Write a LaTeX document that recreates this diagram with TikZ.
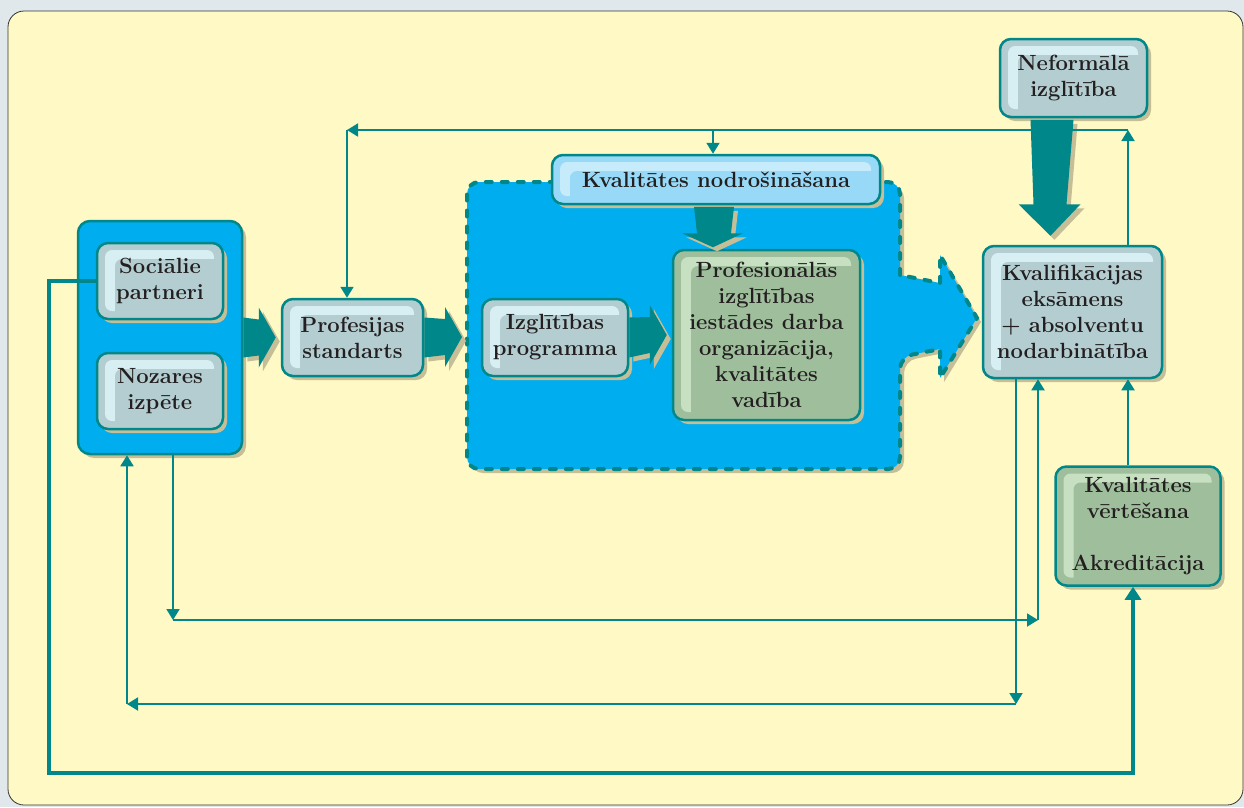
\documentclass[tikz,border=0pt]{standalone}
\usepackage{fontspec}
\usepackage{tikz}
\usetikzlibrary{arrows.meta}
\usetikzlibrary{calc}
\usetikzlibrary{shadows}

\definecolor{tealc}{HTML}{00878A}
\definecolor{cyanc}{HTML}{00AEEF}
\definecolor{greyc}{HTML}{B3CDD1}
\definecolor{greyhl}{HTML}{D7EEF2}
\definecolor{greenc}{HTML}{9FBF9C}
\definecolor{greenhl}{HTML}{C6E0C1}
\definecolor{skyc}{HTML}{97D9F6}
\definecolor{skyhl}{HTML}{C6EBFB}
\definecolor{shadowc}{HTML}{C6BE96}
\definecolor{paperc}{HTML}{FFF9C5}
\definecolor{framec}{HTML}{E1E8EC}
\definecolor{inkc}{HTML}{231F20}

\newcommand{\cardfont}{\fontsize{22}{26}\selectfont\bfseries}

\tikzset{dropped/.style = {drop shadow={fill=shadowc, opacity=1, shadow xshift=4pt, shadow yshift=-4pt}}}
\tikzset{card/.style 2 args = {draw=tealc, line width=2.5pt, rounded corners=11pt, fill=#1, dropped,
    text=inkc, font=\cardfont, align=center, inner sep=0pt,
    path picture={
      \fill[#2, rounded corners=7pt] ([shift={(8pt,-7pt)}]path picture bounding box.north west)
        rectangle ([shift={(-9pt,8pt)}]path picture bounding box.south east);
      \fill[#1, rounded corners=7pt] ([shift={(18pt,-16pt)}]path picture bounding box.north west)
        rectangle (path picture bounding box.south east);}}}
\tikzset{fatarrow/.style = {fill=tealc, dropped}}
\tikzset{wire/.style = {draw=tealc, line width=1.8pt, -{Triangle[length=11pt,width=13pt]}}}
\tikzset{heavywire/.style = {draw=tealc, line width=4.5pt, -{Triangle[length=13pt,width=16pt]}}}

\begin{document}
\begin{tikzpicture}[x=1pt, y=-1pt]
    \newcommand{\fatright}[2]{%
      \fill[fatarrow] ($#1+(0,-20)$) -- ($#2+(-22,-18)$) -- ($#2+(-22,-30)$) -- ($#2+(-5,0)$)
        -- ($#2+(-22,30)$) -- ($#2+(-22,18)$) -- ($#1+(0,20)$) -- cycle;}

    % Background
    \useasboundingbox (0,0) rectangle (1244,807);
    \fill[framec] (0,0) rectangle (1244,807);
    \draw[fill=paperc, draw=black!80, line width=0.8pt, rounded corners=16pt] (8,11) rectangle (1243,805);

    % Left group
    \node[draw=tealc, line width=2.5pt, rounded corners=12pt, fill=cyanc, dropped,
          minimum width=164pt, minimum height=233pt] (grp) at (160,337.5) {};
    \node[card={greyc}{greyhl}, minimum width=126pt, minimum height=76pt] (soc) at (160,281) {Sociālie\\partneri};
    \node[card={greyc}{greyhl}, minimum width=126pt, minimum height=76pt] (noz) at (160,391) {Nozares\\izpēte};

    % Dashed zone
    \coordinate (zone) at (467,337);
    \draw[draw=tealc, fill=cyanc, line width=4pt, dash pattern=on 6pt off 10pt, line cap=round, dropped]
      (900,275) [rounded corners=12pt] -- (900,182) -- (467,182) -- (467,469) -- (900,469)
      -- (900,357) [sharp corners] -- (940,349) -- (940,378) -- (977,318) -- (940,255) -- (940,283) -- cycle;

    % Boxes
    \node[card={greyc}{greyhl}, minimum width=141pt, minimum height=77pt] (prof) at (352.5,337.5) {Profesijas\\standarts};
    \node[card={greyc}{greyhl}, minimum width=146pt, minimum height=77pt] (izgl) at (555,337.5) {Izglītības\\programma};
    \node[card={greenc}{greenhl}, minimum width=187pt, minimum height=170pt] (org) at (766.5,335)
      {Profesionālās\\izglītības\\iestādes darba\\organizācija,\\kvalitātes\\vadība};
    \node[card={skyc}{skyhl}, minimum width=328pt, minimum height=49pt] (qa) at (716,179.5) {Kvalitātes nodrošināšana};
    \node[card={greyc}{greyhl}, minimum width=179pt, minimum height=132pt] (exam) at (1072.5,312)
      {Kvalifikācijas\\eksāmens\\+ absolventu\\nodarbinātība};
    \node[card={greyc}{greyhl}, minimum width=147pt, minimum height=78pt] (nonf) at (1073.5,78) {Neformālā\\izglītība};
    \node[card={greenc}{greenhl}, minimum width=165pt, minimum height=119pt] (accr) at (1138,526)
      {Kvalitātes\\vērtēšana\\[26pt]Akreditācija};

    % Block arrows
    \fatright{(grp.east)}{(prof.west)}
    \fatright{(prof.east)}{(zone)}
    \fatright{(izgl.east)}{(org.west)}
    \fill[fatarrow] ($(qa.south)+(-22,1.5)$) -- ($(qa.south)+(-19,28)$) -- ($(qa.south)+(-34,28)$)
      -- ($(qa.south)+(-3,42)$) -- ($(qa.south)+(27,28)$) -- ($(qa.south)+(15,28)$) -- ($(qa.south)+(18,1.5)$) -- cycle;
    \fill[fatarrow] ($(nonf.south)+(-43,1.5)$) -- ($(nonf.south)+(-40,86)$) -- ($(nonf.south)+(-55,86)$)
      -- ($(exam.north)+(-22,-9)$) -- ($(nonf.south)+(7,86)$) -- ($(nonf.south)+(-7,86)$) -- ($(nonf.south)+(0,1.5)$) -- cycle;

    % Links
    \coordinate (tr) at (1128,130);
    \coordinate (tl) at (347,130);
    \coordinate (tm) at (713,130);
    \draw[wire] (exam.north -| tr) -- (tr);
    \draw[wire] (tr) -- (tl);
    \draw[wire] (tl) -- (prof.north -| tl);
    \draw[wire] (tm) -- (qa.north -| tm);

    \coordinate (b1) at (173,620);
    \coordinate (b2) at (1038,620);
    \draw[wire] (grp.south -| b1) -- (b1);
    \draw[wire] (b1) -- (b2);
    \draw[wire] (b2) -- (exam.south -| b2);

    \coordinate (c1) at (1016,704);
    \coordinate (c2) at (127,704);
    \draw[wire] (exam.south -| c1) -- (c1);
    \draw[wire] (c1) -- (c2);
    \draw[wire] (c2) -- (grp.south -| c2);

    \draw[wire] (accr.north -| tr) -- (exam.south -| tr);

    \coordinate (d1) at (49,773);
    \coordinate (d2) at (1133,773);
    \draw[heavywire] (soc.west) -| (d1) -- (d2) -- (accr.south -| d2);
\end{tikzpicture}
\end{document}
